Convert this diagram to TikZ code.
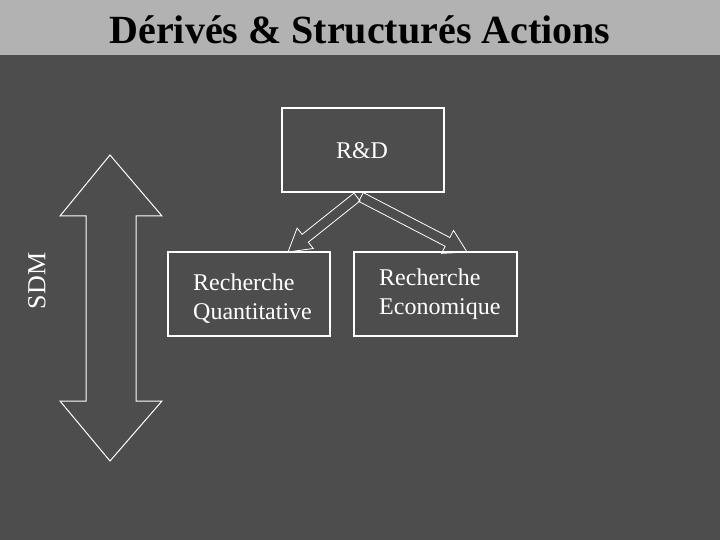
\documentclass[tikz,border=0pt]{standalone}
\usepackage{fontspec}
\setmainfont{Liberation Serif}
\definecolor{bgc}{HTML}{4D4D4D}
\definecolor{hdr}{HTML}{B2B2B2}
\begin{document}
\begin{tikzpicture}[x=1pt,y=-1pt,
  box/.style={draw=white,line width=1.2pt,rectangle},
  lbl/.style={text=white,font=\fontsize{24}{29}\selectfont,align=left,inner sep=0pt,anchor=base west},
  blk/.style={draw=white,line width=0.8pt,line join=miter}]
\fill[bgc] (0,0) rectangle (720,540);
\fill[hdr] (0,0) rectangle (720,55);
\useasboundingbox (0,0) rectangle (720,540);
\node[font=\fontsize{40}{44}\selectfont\bfseries,text=black,inner sep=0pt] (title) at (360,30) {Dérivés \& Structurés Actions};
% boxes
\draw[box] (282,108) rectangle (444,192);
\node[text=white,font=\fontsize{24}{29}\selectfont,inner sep=0pt,anchor=base] (rd) at (362,159) {R\&D};
\draw[box] (168,252) rectangle (330,336);
\node[lbl] (rq) at (193,319) {Recherche\\Quantitative};
\draw[box] (354,252) rectangle (517,336);
\node[lbl] (re) at (379,314) {Recherche\\Economique};
% SDM
\node[text=white,font=\fontsize{26}{30}\selectfont,rotate=90,inner sep=0pt] (sdm) at (37,281) {SDM};
% double arrow
\draw[white,line width=1pt,line join=miter] (110,155) -- (162,216) -- (136,216) -- (136,401) -- (162,401) -- (110,461) -- (60,401) -- (86,401) -- (86,216) -- (60,216) -- cycle;
% block arrows
\coordinate (lt) at (288,252);
\coordinate (rt) at (467,252);
\draw[blk] (353.9,193.1) -- (302.1,234.4) -- (297.1,228.1) -- (lt) -- (313.3,248.5) -- (308.3,242.2) -- (360.1,200.9) -- cycle;
\draw[blk] (363.3,192.6) -- (449.8,237.5) -- (453.5,230.4) -- (rt) -- (441.5,253.4) -- (445.2,246.3) -- (358.7,201.4) -- cycle;
\end{tikzpicture}
\end{document}
